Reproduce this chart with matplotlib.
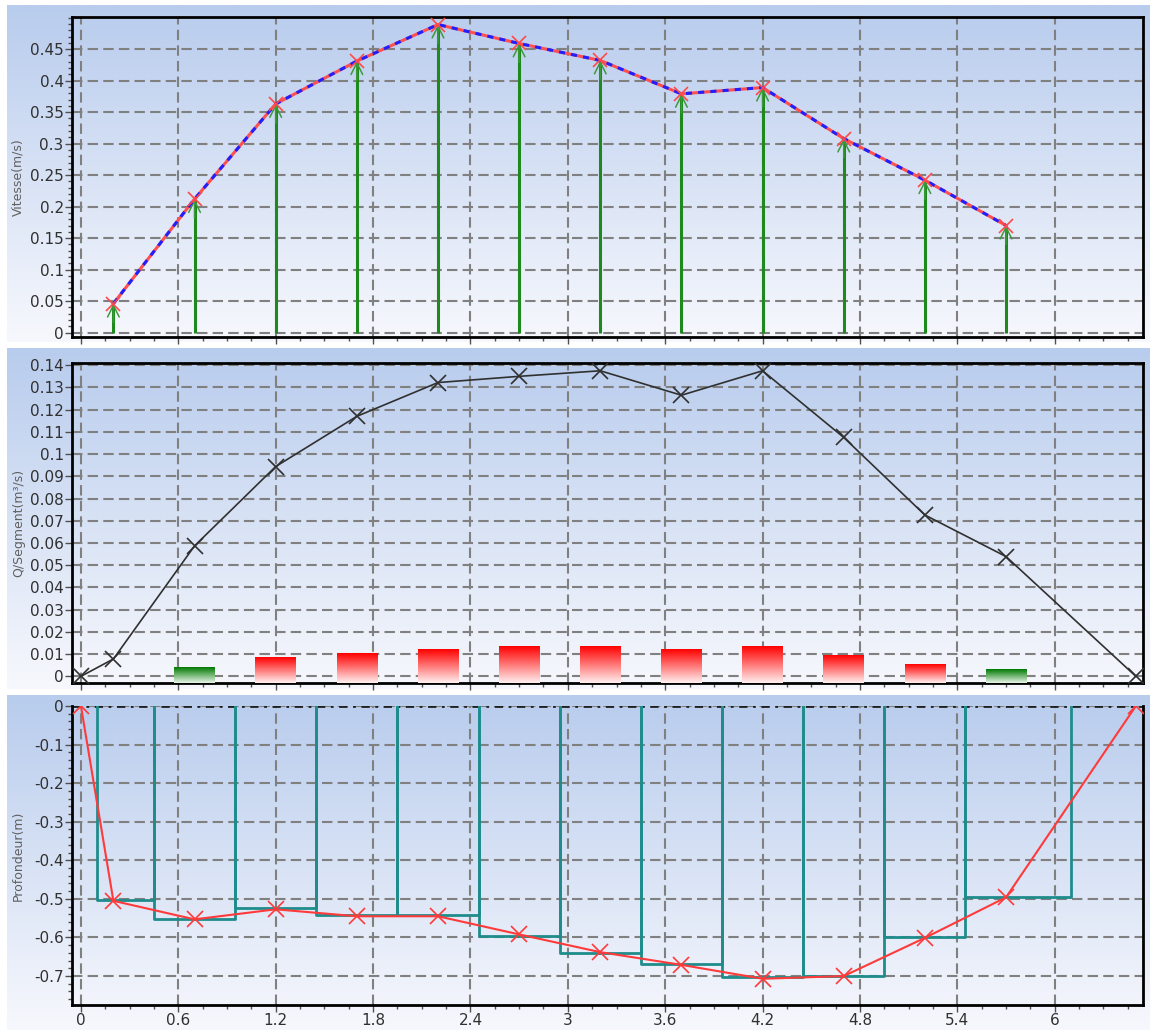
import numpy as np
import matplotlib
matplotlib.use("Agg")
import matplotlib.pyplot as plt
from matplotlib.colors import LinearSegmentedColormap
from matplotlib.ticker import MultipleLocator

plt.rcParams['font.family'] = ['DejaVu Sans']
plt.rcParams['axes.unicode_minus'] = False

# abscisses des verticales (m)
x_vert = [0.2, 0.7, 1.2, 1.7, 2.2, 2.7, 3.2, 3.7, 4.2, 4.7, 5.2, 5.7]
vitesse = [0.046, 0.212, 0.363, 0.431, 0.489, 0.459, 0.432, 0.379, 0.389, 0.308, 0.242, 0.170]

# debit par segment
x_q = [0.0, 0.2, 0.7, 1.2, 1.7, 2.2, 2.7, 3.2, 3.7, 4.2, 4.7, 5.2, 5.7, 6.5]
q_seg = [0.0, 0.0078, 0.0587, 0.0944, 0.117, 0.1322, 0.135, 0.1375, 0.1265, 0.1375, 0.1075, 0.0726, 0.0539, 0.0]

bar_x = [0.7, 1.2, 1.7, 2.2, 2.7, 3.2, 3.7, 4.2, 4.7, 5.2, 5.7]
bar_h = [0.0042, 0.0083, 0.0105, 0.0123, 0.0133, 0.0133, 0.0123, 0.0133, 0.0093, 0.0053, 0.0031]
bar_col = ['g', 'r', 'r', 'r', 'r', 'r', 'r', 'r', 'r', 'r', 'g']

# profil du fond
x_prof = [0.0, 0.2, 0.7, 1.2, 1.7, 2.2, 2.7, 3.2, 3.7, 4.2, 4.7, 5.2, 5.7, 6.5]
prof = [0.0, -0.505, -0.553, -0.527, -0.545, -0.545, -0.592, -0.638, -0.671, -0.707, -0.700, -0.601, -0.496, 0.0]

# segments (bornes et profondeur)
seg_bounds = [0.1, 0.45, 0.95, 1.45, 1.95, 2.45, 2.95, 3.45, 3.95, 4.45, 4.95, 5.45, 6.1]
seg_depth = [-0.503, -0.553, -0.523, -0.542, -0.542, -0.596, -0.641, -0.670, -0.703, -0.699, -0.600, -0.494]

xticks = [0, 0.6, 1.2, 1.8, 2.4, 3, 3.6, 4.2, 4.8, 5.4, 6]
xticklabels = ['0', '0.6', '1.2', '1.8', '2.4', '3', '3.6', '4.2', '4.8', '5.4', '6']

W, H = 1150, 1030
fig = plt.figure(figsize=(W / 100, H / 100), dpi=100)

grad = np.linspace(0, 1, 256).reshape(-1, 1)
bg_cmap = LinearSegmentedColormap.from_list('bg', ['#f7f8fd', '#b8cced'])
red_cmap = LinearSegmentedColormap.from_list('rb', ['#fff0f0', '#ff0000'])
green_cmap = LinearSegmentedColormap.from_list('gb', ['#e8f4e8', '#007800'])


def px_box(x0, y0, x1, y1):
    return [x0 / W, 1 - y1 / H, (x1 - x0) / W, (y1 - y0) / H]


def background(y0, y1):
    bg = fig.add_axes(px_box(7, y0, W, y1), zorder=0)
    bg.imshow(grad, aspect='auto', cmap=bg_cmap, origin='lower', extent=[0, 1, 0, 1])
    bg.axis('off')


background(5, 342)
background(348, 689)
background(695, H)

x_lim = (-0.055, 6.544)
grid_kw = dict(color='#808080', linestyle=(0, (5, 2.5)), linewidth=1.5)


def style_axes(ax, ylabel, ylab_y=0.5):
    ax.set_facecolor('none')
    ax.set_xlim(*x_lim)
    ax.set_xticks(xticks)
    ax.xaxis.set_minor_locator(MultipleLocator(0.15))
    ax.grid(True, which='major', **grid_kw)
    for s in ax.spines.values():
        s.set_linewidth(2)
        s.set_color('black')
    ax.tick_params(which='major', direction='out', length=5, width=1, color='#505050',
                   labelsize=11, pad=1, labelcolor='#303030')
    ax.tick_params(which='minor', direction='out', length=3, width=1, color='#505050')
    ax.set_ylabel(ylabel, fontsize=9, color='#606060')
    ax.yaxis.set_label_coords(-0.044, ylab_y)


# --- Vitesse ---
ax1 = fig.add_axes(px_box(72, 17, 1143, 337), zorder=1)
style_axes(ax1, 'Vitesse(m/s)')
ax1.set_ylim(-0.007, 0.501)
yt1 = [0, 0.05, 0.1, 0.15, 0.2, 0.25, 0.3, 0.35, 0.4, 0.45]
ax1.set_yticks(yt1)
ax1.set_yticklabels(['0', '0.05', '0.1', '0.15', '0.2', '0.25', '0.3', '0.35', '0.4', '0.45'])
ax1.yaxis.set_minor_locator(MultipleLocator(0.01))
ax1.set_xticklabels([])
ax1.vlines(x_vert, 0, vitesse, color='#1e8a1e', linewidth=2.2, zorder=3)
for xv, v in zip(x_vert, vitesse):
    ax1.annotate('', xy=(xv, v), xytext=(xv, v - 0.03),
                 arrowprops=dict(arrowstyle='->,head_length=0.6,head_width=0.3',
                                 color='#3c9a3c', lw=1.1, mutation_scale=14,
                                 shrinkA=0, shrinkB=0), zorder=4)
ax1.plot(x_vert, vitesse, color='#ff5050', linewidth=2.2, zorder=5)
ax1.plot(x_vert, vitesse, color='#2020ff', linewidth=2.2, linestyle=(0, (2, 2)), zorder=6)
ax1.plot(x_vert, vitesse, linestyle='none', marker='x', markersize=10, mew=1.2,
         color='#ff4a4a', zorder=7)

# --- Q/Segment ---
ax2 = fig.add_axes(px_box(72, 363, 1143, 683), zorder=1)
style_axes(ax2, 'Q/Segment(m³/s)')
ax2.set_ylim(-0.003, 0.141)
yt2 = [0, 0.01, 0.02, 0.03, 0.04, 0.05, 0.06, 0.07, 0.08, 0.09, 0.1, 0.11, 0.12, 0.13, 0.14]
ax2.set_yticks(yt2)
ax2.set_yticklabels(['0', '0.01', '0.02', '0.03', '0.04', '0.05', '0.06', '0.07', '0.08',
                     '0.09', '0.1', '0.11', '0.12', '0.13', '0.14'])
ax2.set_xticklabels([])
bw = 0.25
for bx, bh, bc in zip(bar_x, bar_h, bar_col):
    cm = red_cmap if bc == 'r' else green_cmap
    ax2.imshow(grad, aspect='auto', cmap=cm, origin='lower',
               extent=[bx - bw / 2, bx + bw / 2, -0.003, bh], zorder=3)
ax2.plot(x_q, q_seg, color='#303030', linewidth=1.2, marker='x', markersize=12,
         mew=1.2, zorder=5)
ax2.set_xlim(*x_lim)
ax2.set_ylim(-0.003, 0.141)

# --- Profondeur ---
ax3 = fig.add_axes(px_box(72, 706, 1143, 1005), zorder=1)
style_axes(ax3, 'Profondeur(m)')
ax3.set_ylim(-0.775, 0.0)
yt3 = [0, -0.1, -0.2, -0.3, -0.4, -0.5, -0.6, -0.7]
ax3.set_yticks(yt3)
ax3.set_yticklabels(['0', '-0.1', '-0.2', '-0.3', '-0.4', '-0.5', '-0.6', '-0.7'])
ax3.yaxis.set_minor_locator(MultipleLocator(0.02))
ax3.set_xticklabels(xticklabels)
ax3.spines['top'].set_visible(False)
ax3.axhline(0, color='#202020', linewidth=2, linestyle=(0, (3, 2, 1, 2)), zorder=2)
for i, d in enumerate(seg_depth):
    a, b = seg_bounds[i], seg_bounds[i + 1]
    ax3.plot([a, a, b, b], [0, d, d, 0], color='#1f8c8c', linewidth=2, zorder=3)
ax3.plot(x_prof, prof, color='#ff3a3a', linewidth=1.5, marker='x', markersize=11,
         mew=1.2, zorder=5)

fig.savefig('out.png', dpi=100)
